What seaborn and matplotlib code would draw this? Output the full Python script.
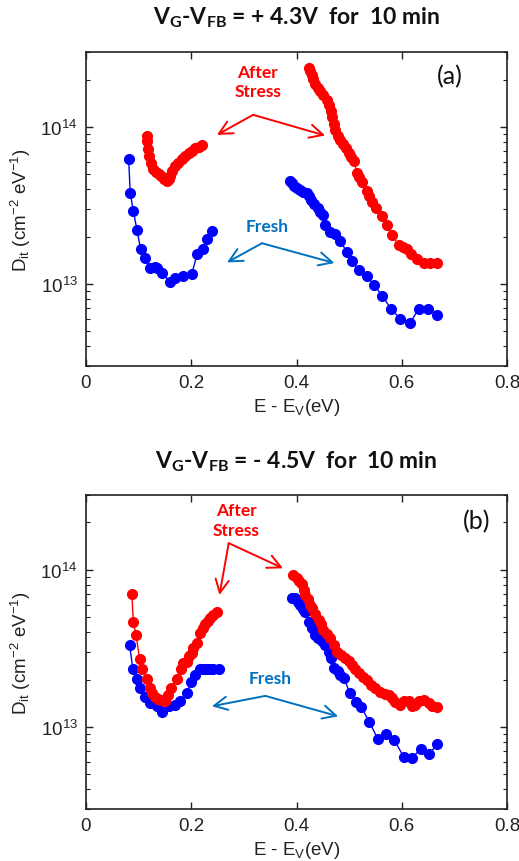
import matplotlib
matplotlib.use("Agg")
import numpy as np
import pandas as pd
import seaborn as sns
import matplotlib.pyplot as plt
from matplotlib.ticker import LogLocator, NullFormatter, FixedLocator

# ---------------- Panel (a): VG-VFB = +4.3 V, 10 min ----------------
a_fresh_lo_E = [0.081, 0.084, 0.090, 0.097, 0.104, 0.113, 0.122, 0.131, 0.135, 0.144,
                0.160, 0.170, 0.185, 0.201, 0.211, 0.223, 0.230, 0.239]
a_fresh_lo_D = [6.29e13, 3.81e13, 2.91e13, 2.19e13, 1.66e13, 1.47e13, 1.27e13, 1.28e13, 1.27e13, 1.18e13,
                1.03e13, 1.09e13, 1.13e13, 1.16e13, 1.54e13, 1.66e13, 1.92e13, 2.17e13]

a_fresh_hi_E = [0.388, 0.392, 0.396, 0.401, 0.407, 0.413, 0.419, 0.423, 0.428, 0.434,
                0.440, 0.445, 0.451, 0.455, 0.464, 0.474, 0.483, 0.496, 0.505, 0.518,
                0.534, 0.547, 0.563, 0.579, 0.597, 0.616, 0.632, 0.650, 0.667]
a_fresh_hi_D = [4.52e13, 4.37e13, 4.20e13, 4.06e13, 3.95e13, 3.86e13, 3.77e13, 3.61e13, 3.41e13, 3.21e13,
                3.03e13, 2.88e13, 2.75e13, 2.39e13, 2.13e13, 2.07e13, 1.87e13, 1.60e13, 1.40e13, 1.23e13,
                1.13e13, 9.8e12, 8.43e12, 6.97e12, 6.01e12, 5.65e12, 6.94e12, 6.94e12, 6.38e12]

a_stress_lo_E = [0.115, 0.116, 0.117, 0.119, 0.123, 0.127, 0.133, 0.138, 0.143, 0.149,
                 0.154, 0.157, 0.160, 0.164, 0.170, 0.175, 0.182, 0.189, 0.195, 0.201,
                 0.208, 0.214, 0.220]
a_stress_lo_D = [8.77e13, 8.1e13, 7.2e13, 6.5e13, 5.86e13, 5.37e13, 5.14e13, 4.99e13, 4.85e13, 4.63e13,
                 4.52e13, 4.63e13, 4.87e13, 5.21e13, 5.64e13, 5.93e13, 6.22e13, 6.5e13, 6.87e13, 7.0e13,
                 7.31e13, 7.42e13, 7.64e13]

a_stress_hi_E = [0.423, 0.426, 0.429, 0.432, 0.436, 0.440, 0.445, 0.451, 0.457, 0.461,
                 0.465, 0.468, 0.471, 0.474, 0.478, 0.483, 0.489, 0.495, 0.499, 0.504,
                 0.509, 0.515, 0.519, 0.524, 0.534, 0.538, 0.543, 0.552, 0.562, 0.572,
                 0.581, 0.594, 0.603, 0.610, 0.618, 0.629, 0.642, 0.654, 0.667]
a_stress_hi_D = [2.39e14, 2.27e14, 2.14e14, 2.02e14, 1.87e14, 1.77e14, 1.69e14, 1.59e14, 1.48e14, 1.37e14,
                 1.26e14, 1.15e14, 1.04e14, 9.53e13, 8.73e13, 8.23e13, 7.76e13, 7.32e13, 6.87e13, 6.41e13,
                 6.04e13, 5.12e13, 4.78e13, 4.44e13, 3.91e13, 3.62e13, 3.31e13, 3.03e13, 2.70e13, 2.36e13,
                 2.05e13, 1.78e13, 1.71e13, 1.66e13, 1.54e13, 1.44e13, 1.36e13, 1.36e13, 1.36e13]

# ---------------- Panel (b): VG-VFB = -4.5 V, 10 min ----------------
b_fresh_lo_E = [0.083, 0.089, 0.096, 0.103, 0.113, 0.122, 0.134, 0.144, 0.157, 0.170,
                0.179, 0.192, 0.200, 0.208, 0.217, 0.224, 0.230, 0.236, 0.242, 0.252]
b_fresh_lo_D = [3.32e13, 2.32e13, 2.01e13, 1.78e13, 1.54e13, 1.42e13, 1.35e13, 1.25e13, 1.35e13, 1.37e13,
                1.46e13, 1.65e13, 1.94e13, 2.14e13, 2.32e13, 2.32e13, 2.32e13, 2.32e13, 2.32e13, 2.32e13]

b_fresh_hi_E = [0.391, 0.398, 0.403, 0.407, 0.413, 0.417, 0.423, 0.429, 0.436, 0.441,
                0.449, 0.455, 0.461, 0.466, 0.471, 0.478, 0.483, 0.490, 0.501, 0.514,
                0.523, 0.538, 0.555, 0.570, 0.586, 0.604, 0.620, 0.636, 0.652, 0.667]
b_fresh_hi_D = [6.59e13, 6.59e13, 6.25e13, 5.98e13, 5.64e13, 5.42e13, 4.68e13, 4.24e13, 3.85e13, 3.68e13,
                3.52e13, 3.32e13, 3.01e13, 2.74e13, 2.36e13, 2.26e13, 2.14e13, 2.04e13, 1.65e13, 1.44e13,
                1.34e13, 1.08e13, 8.32e12, 8.95e12, 8.22e12, 6.41e12, 6.35e12, 7.26e12, 6.67e12, 7.76e12]

b_stress_lo_E = [0.087, 0.090, 0.095, 0.102, 0.107, 0.115, 0.121, 0.126, 0.132, 0.137,
                 0.143, 0.151, 0.156, 0.162, 0.172, 0.180, 0.185, 0.192, 0.195, 0.201,
                 0.204, 0.211, 0.217, 0.222, 0.227, 0.231, 0.236, 0.242, 0.249]
b_stress_lo_D = [7.03e13, 4.68e13, 3.85e13, 2.69e13, 2.32e13, 2.01e13, 1.77e13, 1.64e13, 1.55e13, 1.50e13,
                 1.48e13, 1.47e13, 1.59e13, 1.77e13, 2.01e13, 2.32e13, 2.54e13, 2.60e13, 2.83e13, 2.97e13,
                 3.18e13, 3.40e13, 3.94e13, 4.27e13, 4.53e13, 4.73e13, 4.92e13, 5.17e13, 5.40e13]

b_stress_hi_E = [0.394, 0.401, 0.405, 0.410, 0.414, 0.417, 0.421, 0.426, 0.430, 0.436,
                 0.442, 0.446, 0.451, 0.458, 0.464, 0.471, 0.477, 0.485, 0.493, 0.499,
                 0.505, 0.512, 0.518, 0.526, 0.534, 0.542, 0.550, 0.559, 0.569, 0.575,
                 0.581, 0.588, 0.597, 0.605, 0.613, 0.620, 0.626, 0.633, 0.643, 0.651,
                 0.658, 0.667]
b_stress_hi_D = [9.29e13, 8.85e13, 8.51e13, 8.14e13, 7.46e13, 6.92e13, 6.53e13, 5.98e13, 5.72e13, 5.24e13,
                 4.80e13, 4.52e13, 4.14e13, 3.91e13, 3.67e13, 3.32e13, 3.01e13, 2.87e13, 2.73e13, 2.61e13,
                 2.48e13, 2.33e13, 2.19e13, 2.08e13, 1.99e13, 1.86e13, 1.76e13, 1.67e13, 1.63e13, 1.59e13,
                 1.52e13, 1.44e13, 1.37e13, 1.45e13, 1.47e13, 1.36e13, 1.37e13, 1.46e13, 1.48e13, 1.42e13,
                 1.35e13, 1.34e13]

x_ticks = [0, 0.2, 0.4, 0.6, 0.8]
x_tick_labels = ["0", "0.2", "0.4", "0.6", "0.8"]

title_a = r"$\mathbf{V_{G}}$-$\mathbf{V_{FB}}$ = + 4.3V  for  10 min"
title_b = r"$\mathbf{V_{G}}$-$\mathbf{V_{FB}}$ = - 4.5V  for  10 min"

RED = "#ff0000"
BLUE = "#0000ff"
NOTE_BLUE = "#0070c0"

sns.set_style("ticks")
plt.rcParams["font.family"] = ["Liberation Sans", "DejaVu Sans"]
plt.rcParams["mathtext.fontset"] = "custom"
plt.rcParams["mathtext.rm"] = "Liberation Sans"
plt.rcParams["mathtext.it"] = "Liberation Sans:italic"
plt.rcParams["mathtext.bf"] = "Lato:bold"

fig = plt.figure(figsize=(5.19, 8.62), dpi=100)
ax_a = fig.add_axes([0.1657, 0.5742, 0.8112, 0.3643])
ax_b = fig.add_axes([0.1657, 0.0603, 0.8112, 0.3646])


def draw_branch(ax, E, D, color):
    df = pd.DataFrame({"E": E, "D": D})
    sns.lineplot(data=df, x="E", y="D", ax=ax, color=color, sort=False, estimator=None,
                 marker="o", markersize=7, markeredgewidth=1.0, markeredgecolor=color,
                 linewidth=1.0)


def style_axis(ax):
    ax.set_yscale("log")
    ax.set_xlim(0, 0.8)
    ax.set_ylim(3e12, 3e14)
    ax.xaxis.set_major_locator(FixedLocator(x_ticks))
    ax.set_xticklabels(x_tick_labels)
    ax.yaxis.set_major_locator(LogLocator(base=10, numticks=10))
    ax.yaxis.set_minor_locator(LogLocator(base=10, subs=np.arange(2, 10), numticks=10))
    ax.yaxis.set_minor_formatter(NullFormatter())
    ax.tick_params(which="both", direction="in", top=True, right=True, labelsize=13.5,
                   color="#222222", labelcolor="#222222")
    ax.tick_params(which="major", length=5, width=1.0, pad=6)
    ax.tick_params(which="minor", length=3, width=0.8)
    for s in ax.spines.values():
        s.set_linewidth(1.2)
        s.set_color("#222222")
    ax.set_xlabel(r"E - E$_\mathrm{V}$(eV)", fontsize=13.5, color="#222222")
    ax.set_ylabel(r"D$_\mathrm{it}$ (cm$^{-2}$ eV$^{-1}$)", fontsize=13.5, color="#222222")
    ax.xaxis.set_label_coords(0.5, -0.095)
    ax.yaxis.set_label_coords(-0.125, 0.5)


def note(ax, text, xy, color, size=12.5):
    ax.text(xy[0], xy[1], text, transform=ax.transAxes, ha="center", va="center",
            color=color, fontsize=size, fontweight="bold", family="Lato", linespacing=1.25)


def bent_arrow(ax, vertex, tips, color):
    for tip in tips:
        ax.annotate("", xy=tip, xytext=vertex, xycoords="axes fraction",
                    textcoords="axes fraction",
                    arrowprops=dict(arrowstyle="->", color=color, lw=1.4,
                                    mutation_scale=24, shrinkA=0, shrinkB=0))


# Panel (a)
draw_branch(ax_a, a_fresh_lo_E, a_fresh_lo_D, BLUE)
draw_branch(ax_a, a_fresh_hi_E, a_fresh_hi_D, BLUE)
draw_branch(ax_a, a_stress_lo_E, a_stress_lo_D, RED)
draw_branch(ax_a, a_stress_hi_E, a_stress_hi_D, RED)
style_axis(ax_a)
note(ax_a, "After\nStress", (0.408, 0.907), RED)
bent_arrow(ax_a, (0.397, 0.800), [(0.311, 0.736), (0.568, 0.734)], RED)
note(ax_a, "Fresh", (0.430, 0.447), NOTE_BLUE)
bent_arrow(ax_a, (0.418, 0.391), [(0.335, 0.330), (0.590, 0.328)], NOTE_BLUE)
ax_a.text(0.865, 0.925, "(a)", transform=ax_a.transAxes, ha="center", va="center",
          fontsize=18, family="Lato", color="#111111")

# Panel (b)
draw_branch(ax_b, b_fresh_lo_E, b_fresh_lo_D, BLUE)
draw_branch(ax_b, b_fresh_hi_E, b_fresh_hi_D, BLUE)
draw_branch(ax_b, b_stress_lo_E, b_stress_lo_D, RED)
draw_branch(ax_b, b_stress_hi_E, b_stress_hi_D, RED)
style_axis(ax_b)
note(ax_b, "After\nStress", (0.357, 0.920), RED)
bent_arrow(ax_b, (0.339, 0.846), [(0.317, 0.681), (0.468, 0.766)], RED)
note(ax_b, "Fresh", (0.438, 0.416), NOTE_BLUE)
bent_arrow(ax_b, (0.426, 0.360), [(0.299, 0.327), (0.599, 0.295)], NOTE_BLUE)
ax_b.text(0.927, 0.917, "(b)", transform=ax_b.transAxes, ha="center", va="center",
          fontsize=18, family="Lato", color="#111111")

for ypos, ttl in [(0.979, title_a), (0.464, title_b)]:
    fig.text(0.571, ypos, ttl, ha="center", va="center", fontsize=16.5,
             fontweight="bold", family="Lato", color="#111111")

fig.savefig("out.png", dpi=100)
